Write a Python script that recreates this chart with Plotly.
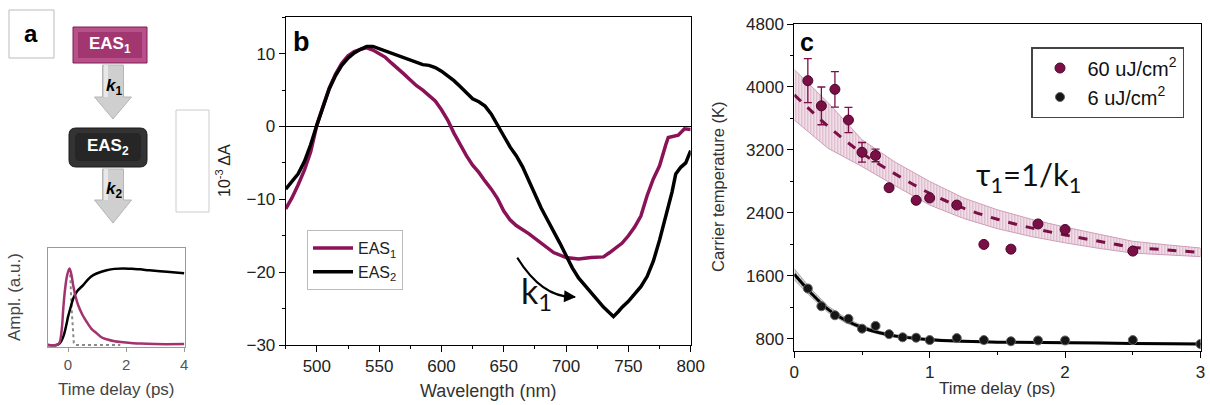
import plotly.graph_objects as go

W, H = 1210, 405
def px(x): return x / W
def py(y): return 1 - y / H

MAG = "#8A1257"
MAGM = "#7A0F48"

# ---------------- Panel a (kinetics of the EAS model) ----------------
ta_eas1 = [-0.69, -0.4, -0.3, -0.22, -0.16, -0.1, -0.03, 0.05, 0.12, 0.18, 0.26, 0.35, 0.5, 0.64, 0.8, 0.99, 1.15, 1.33, 1.6, 1.9, 2.5, 3.0, 4.0]
amp_eas1 = [0.0, 0.0, 0.02, 0.15, 0.39, 0.58, 0.72, 0.79, 0.72, 0.61, 0.5, 0.41, 0.31, 0.24, 0.17, 0.12, 0.08, 0.06, 0.04, 0.03, 0.015, 0.01, 0.01]
ta_eas2 = [-0.69, -0.4, -0.28, -0.16, -0.05, 0.0, 0.1, 0.18, 0.3, 0.53, 0.7, 0.87, 1.1, 1.33, 1.6, 1.9, 2.2, 2.48, 2.8, 3.17, 3.6, 4.0]
amp_eas2 = [0.0, 0.0, 0.02, 0.09, 0.22, 0.29, 0.4, 0.48, 0.55, 0.62, 0.68, 0.72, 0.75, 0.77, 0.785, 0.79, 0.785, 0.78, 0.77, 0.76, 0.75, 0.74]
ta_irf = [0.05, 0.08, 0.12, 0.16, 0.2, 0.25, 0.5, 1.0, 1.5, 1.8]
amp_irf = [0.79, 0.7, 0.39, 0.12, 0.02, 0.0, 0.0, 0.0, 0.0, 0.0]

# ---------------- Panel b (EAS spectra) ----------------
wl_eas1 = [475, 480, 485, 490, 495, 500, 505, 510, 515, 520, 525, 530, 535, 540, 545, 550, 555, 560, 565, 570,
           575, 580, 585, 590, 595, 600, 605, 610, 615, 620, 625, 630, 635, 640, 645, 650, 655, 660, 670, 680,
           690, 700, 710, 720, 730, 735, 740, 745, 750, 755, 760, 765, 770, 775, 780, 782, 790, 795, 800]
da_eas1 = [-11.3, -9.8, -8.0, -6.0, -3.5, 0.2, 2.8, 5.3, 7.2, 8.7, 9.7, 10.3, 10.6, 10.8, 10.5, 10.0, 9.5, 8.7, 8.0, 7.2,
           6.4, 5.6, 5.0, 4.3, 3.5, 2.3, 0.9, -0.9, -2.5, -4.0, -5.3, -6.3, -7.5, -8.6, -9.9, -11.6, -12.8, -13.6, -14.7, -16.0,
           -17.3, -18.0, -18.2, -18.0, -17.9, -17.3, -16.6, -16.0, -15.0, -13.8, -12.3, -9.5, -7.2, -5.4, -2.5, -1.5, -1.2, -0.3, -0.4]
wl_eas2 = [475, 480, 485, 490, 495, 500, 505, 510, 515, 520, 525, 530, 535, 540, 545, 550, 555, 560, 565, 570,
           575, 580, 585, 590, 595, 600, 605, 610, 615, 620, 625, 630, 635, 640, 645, 650, 655, 660, 665, 670,
           675, 680, 685, 690, 695, 700, 705, 710, 715, 720, 725, 730, 735, 738, 742, 745, 750, 755, 760, 765,
           770, 775, 780, 785, 788, 792, 796, 800]
da_eas2 = [-8.6, -7.6, -6.5, -4.8, -2.5, 0.2, 2.8, 5.2, 7.0, 8.4, 9.4, 10.1, 10.6, 11.0, 11.0, 10.7, 10.4, 10.1, 9.8, 9.5,
           9.1, 8.8, 8.5, 8.4, 8.1, 7.6, 7.0, 6.3, 5.5, 4.6, 3.8, 3.4, 2.8, 1.7, 0.3, -1.3, -2.8, -4.0, -5.5, -7.5,
           -9.4, -11.2, -12.8, -14.3, -16.0, -17.7, -19.4, -20.8, -21.8, -22.8, -23.8, -24.8, -25.6, -26.1, -25.4, -24.8, -24.0, -23.0, -22.0, -20.6,
           -18.5, -15.6, -12.5, -9.0, -6.5, -5.6, -5.0, -3.3]

# ---------------- Panel c (carrier temperature) ----------------
t60 = [0.1, 0.2, 0.3, 0.4, 0.5, 0.6, 0.7, 0.9, 1.0, 1.2, 1.4, 1.6, 1.8, 2.0, 2.5]
T60 = [4080, 3760, 3970, 3580, 3170, 3130, 2720, 2560, 2590, 2500, 2000, 1940, 2260, 2190, 1915]
err60 = [280, 240, 225, 160, 125, 80, 0, 0, 0, 0, 0, 0, 0, 0, 0]
tfit60 = [0, 0.25, 0.5, 0.75, 1.0, 1.25, 1.5, 1.75, 2.0, 2.25, 2.5, 2.75, 3.0]
Tfit60 = [3900, 3500, 3160, 2890, 2650, 2460, 2320, 2210, 2120, 2040, 1965, 1930, 1900]
Tup60 = [4220, 3800, 3330, 3040, 2800, 2590, 2440, 2320, 2220, 2130, 2040, 1995, 1955]
Tlo60 = [3580, 3220, 2990, 2740, 2500, 2330, 2200, 2100, 2020, 1950, 1890, 1865, 1845]

t6 = [0.1, 0.2, 0.3, 0.4, 0.5, 0.6, 0.7, 0.8, 0.9, 1.0, 1.2, 1.4, 1.6, 1.8, 2.0, 2.5, 3.0]
T6 = [1440, 1215, 1100, 1055, 930, 965, 860, 820, 815, 785, 810, 785, 770, 780, 780, 785, 735]
tfit6 = [0, 0.125, 0.25, 0.375, 0.5, 0.625, 0.75, 1.0, 1.25, 1.5, 2.0, 2.5, 3.0]
Tfit6 = [1620, 1380, 1175, 1040, 945, 880, 835, 790, 770, 758, 752, 742, 735]
Tup6 = [1690, 1430, 1215, 1072, 970, 900, 852, 803, 781, 768, 761, 751, 744]
Tlo6 = [1550, 1330, 1135, 1008, 920, 860, 818, 777, 759, 748, 743, 733, 726]

fig = go.Figure()

# panel a traces
fig.add_trace(go.Scatter(x=ta_irf, y=amp_irf, mode="lines", line=dict(color="#8a8a8a", width=2, dash="dot"),
                         xaxis="x", yaxis="y", showlegend=False))
fig.add_trace(go.Scatter(x=ta_eas2, y=amp_eas2, mode="lines", line=dict(color="black", width=2.5, shape="spline"),
                         xaxis="x", yaxis="y", showlegend=False))
fig.add_trace(go.Scatter(x=ta_eas1, y=amp_eas1, mode="lines", line=dict(color="#A2336F", width=2.5, shape="spline"),
                         xaxis="x", yaxis="y", showlegend=False))

# panel b traces
fig.add_trace(go.Scatter(x=wl_eas1, y=da_eas1, mode="lines", name="EAS<sub>1</sub>",
                         line=dict(color=MAG, width=3.5), xaxis="x2", yaxis="y2", legend="legend"))
fig.add_trace(go.Scatter(x=wl_eas2, y=da_eas2, mode="lines", name="EAS<sub>2</sub>",
                         line=dict(color="black", width=3.5), xaxis="x2", yaxis="y2", legend="legend"))

# panel c traces: bands
fig.add_trace(go.Scatter(x=tfit60 + tfit60[::-1], y=Tup60 + Tlo60[::-1], mode="lines", fill="toself",
                         line=dict(color="#CF9DB8", width=1),
                         fillpattern=dict(shape="|", fgcolor="#C0819F", bgcolor="rgba(240,222,232,0.7)", size=3, solidity=0.45),
                         xaxis="x3", yaxis="y3", showlegend=False, hoverinfo="skip"))
fig.add_trace(go.Scatter(x=tfit6 + tfit6[::-1], y=Tup6 + Tlo6[::-1], mode="lines", fill="toself",
                         line=dict(color="#AAAAAA", width=1),
                         fillpattern=dict(shape="|", fgcolor="#888888", bgcolor="rgba(210,210,210,0.6)", size=3, solidity=0.45),
                         xaxis="x3", yaxis="y3", showlegend=False, hoverinfo="skip"))
fig.add_trace(go.Scatter(x=tfit60, y=Tfit60, mode="lines", line=dict(color=MAGM, width=3, dash="dash", shape="spline"),
                         xaxis="x3", yaxis="y3", showlegend=False))
fig.add_trace(go.Scatter(x=tfit6, y=Tfit6, mode="lines", line=dict(color="black", width=3, shape="spline"),
                         xaxis="x3", yaxis="y3", showlegend=False))
fig.add_trace(go.Scatter(x=t60, y=T60, mode="markers", name="60 uJ/cm<sup>2</sup>",
                         marker=dict(color=MAGM, size=10, line=dict(color="#4A0828", width=1)),
                         error_y=dict(type="data", array=err60, color=MAGM, thickness=1.3, width=4),
                         xaxis="x3", yaxis="y3", legend="legend2"))
fig.add_trace(go.Scatter(x=t6, y=T6, mode="markers", name="6 uJ/cm<sup>2</sup>",
                         marker=dict(color="#151515", size=9, line=dict(color="#666666", width=1)),
                         xaxis="x3", yaxis="y3", legend="legend2"))

tickfont = dict(family="Liberation Sans, Arial", size=17, color="#222")
common = dict(showline=True, linecolor="black", linewidth=1, mirror=True, ticks="outside", ticklen=6,
              tickcolor="black", showgrid=False, tickfont=tickfont, automargin=False)

fig.update_layout(
    width=W, height=H, autosize=False, margin=dict(l=0, r=0, t=0, b=0, pad=0, autoexpand=False),
    paper_bgcolor="white", plot_bgcolor="white",
    xaxis=dict(domain=[px(48), px(185)], range=[-0.69, 4.03], showline=True, linecolor="#999", mirror=True,
               ticks="outside", ticklen=4, tickcolor="#999", tickvals=[0, 2, 4], showgrid=False, zeroline=False,
               tickfont=dict(family="Liberation Sans, Arial", size=15, color="#555"), anchor="y", automargin=False),
    yaxis=dict(domain=[py(347), py(248)], range=[-0.02, 1.0], showline=True, linecolor="#999", mirror=True,
               showticklabels=False, ticks="", showgrid=False, zeroline=False, anchor="x", automargin=False),
    xaxis2=dict(domain=[px(285.7), px(690.7)], range=[475, 800], tickvals=[500, 550, 600, 650, 700, 750, 800],
                minor=dict(dtick=25, tick0=500, ticklen=3, ticks="outside", tickcolor="black"), anchor="y2",
                zeroline=False, **common),
    yaxis2=dict(domain=[py(345), py(17.3)], range=[-30, 15], tickvals=[-30, -20, -10, 0, 10],
                minor=dict(dtick=5, tick0=0, ticklen=3, ticks="outside", tickcolor="black"), anchor="x2",
                zeroline=True, zerolinecolor="black", zerolinewidth=1, **common),
    xaxis3=dict(domain=[px(794.3), px(1200.5)], range=[0, 3], tickvals=[0, 1, 2, 3],
                minor=dict(dtick=0.5, tick0=0, ticklen=3, ticks="outside", tickcolor="black"), anchor="y3",
                zeroline=False, **common),
    yaxis3=dict(domain=[py(350.7), py(24)], range=[650, 4800], tickvals=[800, 1600, 2400, 3200, 4000, 4800],
                minor=dict(dtick=400, tick0=0, ticklen=3, ticks="outside", tickcolor="black"), anchor="x3",
                zeroline=False, **common),
    legend=dict(x=px(307), y=py(230), xanchor="left", yanchor="top", bordercolor="#bbbbbb", borderwidth=1,
                bgcolor="white", font=dict(family="Liberation Sans, Arial", size=16, color="#222"),
                tracegroupgap=0, itemwidth=40),
    legend2=dict(x=px(1031), y=py(47), xanchor="left", yanchor="top", bordercolor="#444", borderwidth=1.5,
                 bgcolor="white", font=dict(family="Liberation Sans, Arial", size=20, color="#111"),
                 itemwidth=45),
)

shapes = []
# label box "a"
shapes.append(dict(type="rect", xref="paper", yref="paper", x0=px(9), x1=px(54), y0=py(58), y1=py(10),
                   line=dict(color="#bbbbbb", width=1), fillcolor="white"))
# empty box
shapes.append(dict(type="rect", xref="paper", yref="paper", x0=px(176), x1=px(209), y0=py(212), y1=py(110),
                   line=dict(color="#cccccc", width=1)))
# EAS1 beveled box
shapes.append(dict(type="rect", xref="paper", yref="paper", x0=px(73), x1=px(147), y0=py(63), y1=py(27),
                   line=dict(color="#7E1E52", width=1), fillcolor="#B8508A"))
shapes.append(dict(type="rect", xref="paper", yref="paper", x0=px(78), x1=px(142), y0=py(58), y1=py(32),
                   line=dict(width=0), fillcolor="#A13670"))

def rpath(x0, y0, x1, y1, r):
    pts = [(x0 + r, y0), (x1 - r, y0), (x1, y0 + r), (x1, y1 - r), (x1 - r, y1), (x0 + r, y1), (x0, y1 - r), (x0, y0 + r)]
    s = "M {} {} L {} {} Q {} {} {} {} L {} {} Q {} {} {} {} L {} {} Q {} {} {} {} L {} {} Q {} {} {} {} Z"
    P = lambda x, y: (px(x), py(y))
    a = [P(*pts[0]), P(*pts[1]), P(x1, y0), P(*pts[2]), P(*pts[3]), P(x1, y1), P(*pts[4]), P(*pts[5]),
         P(x0, y1), P(*pts[6]), P(*pts[7]), P(x0, y0), P(*pts[0])]
    flat = [v for pt in a for v in pt]
    return s.format(*flat)

shapes.append(dict(type="path", xref="paper", yref="paper", path=rpath(69, 128, 147, 167, 7),
                   line=dict(color="#1a1a1a", width=1), fillcolor="#333333"))
shapes.append(dict(type="path", xref="paper", yref="paper", path=rpath(75, 133, 141, 161, 5),
                   line=dict(width=0), fillcolor="#262626"))

def arrow_path(cx, ytop, yneck, ytip, sw, hw):
    P = lambda x, y: "{:.5f} {:.5f}".format(px(x), py(y))
    return ("M " + P(cx - sw / 2, ytop) + " L " + P(cx + sw / 2, ytop) + " L " + P(cx + sw / 2, yneck) +
            " L " + P(cx + hw / 2, yneck) + " L " + P(cx, ytip) + " L " + P(cx - hw / 2, yneck) +
            " L " + P(cx - sw / 2, yneck) + " Z")

for ytop, yneck, ytip in [(65, 97, 119), (169, 200, 223)]:
    shapes.append(dict(type="path", xref="paper", yref="paper", path=arrow_path(113, ytop, yneck, ytip, 21, 37),
                       line=dict(color="#b5b5b5", width=1), fillcolor="#cfcfcf"))
    shapes.append(dict(type="path", xref="paper", yref="paper",
                       path="M {} {} L {} {} L {} {} L {} {} Z".format(px(104), py(ytop), px(108), py(ytop), px(108), py(yneck), px(104), py(yneck)),
                       line=dict(width=0), fillcolor="#e8e8e8"))

# curved k1 arrow in panel b
shapes.append(dict(type="path", xref="x2", yref="y2", path="M 660.8,-18.0 Q 681,-23.6 707,-23.4",
                   line=dict(color="black", width=2)))
fig.update_layout(shapes=shapes)

ann = []
def A(x, y, text, size, family="Liberation Sans, Arial", color="#222", angle=0, **kw):
    ann.append(dict(x=px(x), y=py(y), xref="paper", yref="paper", text=text, showarrow=False,
                    font=dict(family=family, size=size, color=color), textangle=angle,
                    xanchor="center", yanchor="middle", **kw))

A(31, 33, "<b>a</b>", 24, color="black")
A(110, 45, "<b>EAS<sub>1</sub></b>", 17, color="white")
A(108, 147, "<b>EAS<sub>2</sub></b>", 17, color="white")
A(114, 87, "<b><i>k</i><sub>1</sub></b>", 17, color="black")
A(114, 190, "<b><i>k</i><sub>2</sub></b>", 17, color="black")
A(14, 297, "Ampl. (a.u.)", 17, color="#444", angle=-90)
A(116, 389, "Time delay (ps)", 17, color="#444")
A(223, 171, "10<sup>-3</sup> ΔA", 16, color="#222", angle=-90)
A(301, 42, "<b>b</b>", 27, color="black")
A(488, 391, "Wavelength (nm)", 18, color="#333")
A(536, 293, "k<sub>1</sub>", 34, family="Lato, Open Sans", color="#111")
A(807, 42, "<b>c</b>", 25, color="black")
A(718, 187, "Carrier temperature (K)", 16.5, color="#333", angle=-90)
A(997, 388, "Time delay (ps)", 17, color="#333")
A(1028, 176, "τ<sub>1</sub>=1/k<sub>1</sub>", 31, family="Lato, Open Sans", color="#111")
ann.append(dict(x=708, y=-23.4, xref="x2", yref="y2", ax=-15, ay=-1, showarrow=True, arrowhead=2,
                arrowsize=1.2, arrowwidth=2, arrowcolor="black", text=""))
fig.update_layout(annotations=ann)

fig.write_html("out.html", config={"displayModeBar": False, "staticPlot": True},
               post_script="document.body.style.margin='0';document.body.style.padding='0';document.body.style.overflow='hidden';")
